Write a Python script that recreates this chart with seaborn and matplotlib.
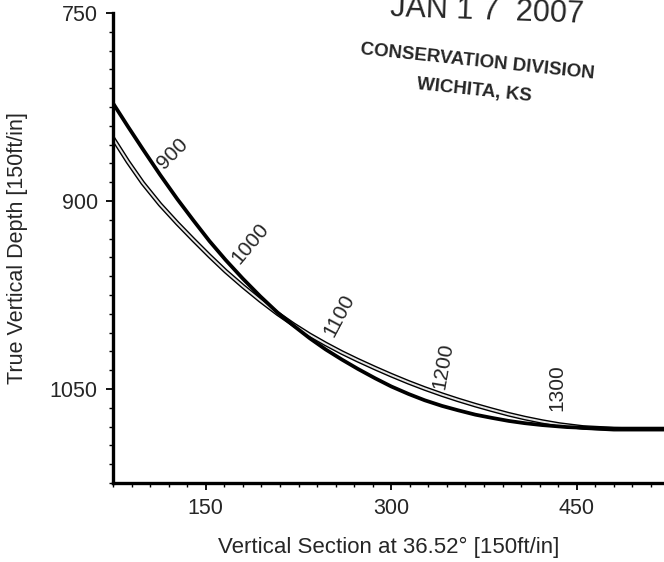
import matplotlib
matplotlib.use("Agg")
import matplotlib.pyplot as plt
from matplotlib.ticker import MultipleLocator
import seaborn as sns
import pandas as pd

plan_vs = [75, 87, 99, 113, 127, 140, 153, 166, 180, 194, 208, 221, 234, 247, 260, 273,
           287, 300, 314, 327, 341, 354, 368, 381, 395, 408, 422, 442, 469, 495, 521]
plan_tvd = [822, 840.5, 858.5, 879, 898.5, 915.5, 932, 947, 962, 976, 989, 999.5, 1009.5, 1018.5, 1026.5, 1034,
            1041.5, 1048, 1054, 1059, 1063.5, 1067, 1070.5, 1073, 1075.5, 1077.3, 1078.8, 1080.4, 1081.5, 1082, 1082]

act_vs = [75, 87, 99, 113, 127, 140, 153, 166, 180, 194, 208, 221, 234, 247, 260, 273,
          287, 300, 314, 327, 341, 354, 368, 381, 395, 408, 422, 436, 455, 480, 521]
act_tvd = [850, 868.6, 885.6, 902.7, 917.8, 931, 943.8, 956, 968, 979.3, 989.8, 998.7, 1006.8, 1014.1, 1020.9, 1027.1,
           1033.4, 1039, 1044.7, 1049.6, 1054.5, 1058.7, 1062.9, 1066.5, 1070.2, 1073.2, 1076, 1078.4, 1080.7, 1082, 1082]

md_labels = ["900", "1000", "1100", "1200", "1300"]
md_x = [123.5, 186, 258, 342, 434]
md_y = [862, 934, 991, 1032, 1049]
md_rot = [45, 50, 62, 80, 90]

df_plan = pd.DataFrame({"vs": plan_vs, "tvd": plan_tvd})
df_act = pd.DataFrame({"vs": act_vs, "tvd": act_tvd})

sns.set_style("ticks")
plt.rcParams["font.family"] = ["Liberation Sans", "DejaVu Sans"]

fig = plt.figure(figsize=(6.64, 5.62), dpi=100)
ax = fig.add_axes([0.1702, 0.1406, 0.8298, 0.8363])

sns.lineplot(data=df_act, x="vs", y="tvd", sort=False, color="black", linewidth=3.4, ax=ax)
sns.lineplot(data=df_act, x="vs", y="tvd", sort=False, color="#e6e6e6", linewidth=1.4, ax=ax)
sns.lineplot(data=df_plan, x="vs", y="tvd", sort=False, color="black", linewidth=2.7, ax=ax)

for lab, x, y, r in zip(md_labels, md_x, md_y, md_rot):
    ax.text(x, y, lab, rotation=r, ha="center", va="center", fontsize=15)

ax.set_xlim(75, 520.5)
ax.set_ylim(1125, 750)
ax.xaxis.set_major_locator(MultipleLocator(150))
ax.xaxis.set_minor_locator(MultipleLocator(15))
ax.yaxis.set_major_locator(MultipleLocator(150))
ax.yaxis.set_minor_locator(MultipleLocator(15))
ax.set_xticks([150, 300, 450])
ax.set_yticks([750, 900, 1050])

sns.despine(ax=ax)
for s in ["left", "bottom"]:
    ax.spines[s].set_linewidth(2.4)
    ax.spines[s].set_color("black")
ax.tick_params(which="major", length=5, width=1.3, color="black", labelsize=15.5, pad=6)
ax.tick_params(which="minor", length=3, width=1, color="black")

ax.set_xlabel("Vertical Section at 36.52° [150ft/in]", fontsize=16, va="center")
ax.set_ylabel("True Vertical Depth [150ft/in]", fontsize=15.5, va="center")
ax.xaxis.set_label_coords(0.5, -0.138)
ax.yaxis.set_label_coords(-0.174, 0.5)

# received stamp (top is clipped in the scan)
fig.text(487 / 664, 1 - 11 / 562, "JAN 1 7  2007", fontsize=22, ha="center", va="center",
         rotation=-2)
fig.text(477 / 664, 1 - 62 / 562, "CONSERVATION DIVISION", fontsize=13.5, fontweight="bold",
         ha="center", va="center", rotation=-6)
fig.text(474 / 664, 1 - 91 / 562, "WICHITA, KS", fontsize=13.5, fontweight="bold",
         ha="center", va="center", rotation=-6)

fig.savefig("out.png", dpi=100)
